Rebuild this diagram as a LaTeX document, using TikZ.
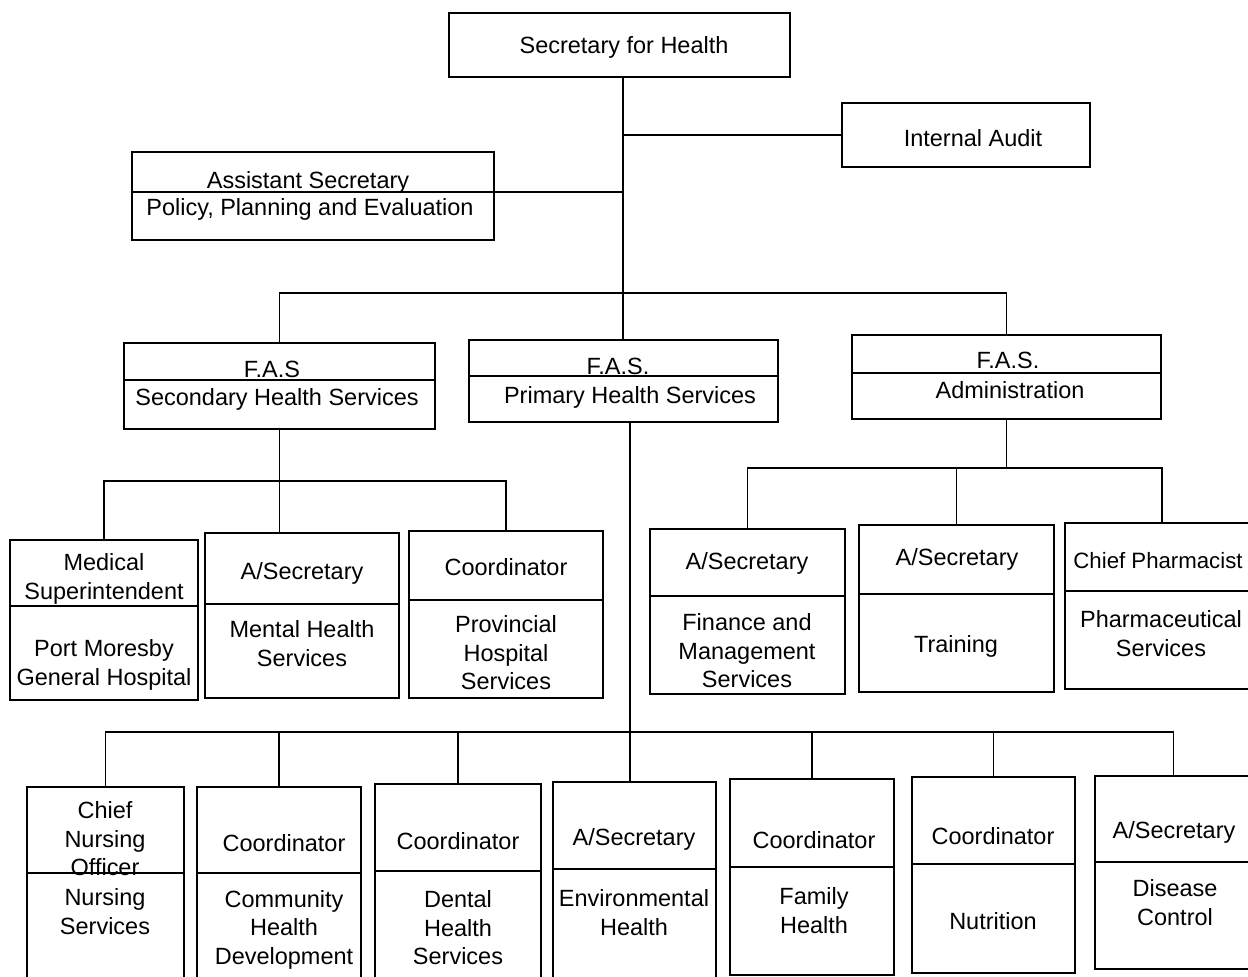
\documentclass[tikz,border=0pt]{standalone}
\usepackage{fontspec}
\setmainfont{Liberation Sans}
\usetikzlibrary{fit}

% a framed unit: name, corners (x1,y1) (x2,y2), height of its dividing rule
\newcommand\orgunit[6]{%
  \node[orgframe, fit={(#2,#3) (#4,#5)}] (#1) {};
  \draw (#1.west |- 0,#6) -- (#1.east |- 0,#6);
}

\begin{document}
\begin{tikzpicture}[x=0.025cm, y=-0.025cm, line width=1.2pt,
  orgframe/.style={draw, inner sep=0pt},
  txt/.style={align=center, inner sep=0pt, yshift=-2pt,
    font=\fontsize{16.7}{20.4}\selectfont}]
\useasboundingbox (0,0) rectangle (1248,976);
\clip (0,0) rectangle (1248,976);

% ---- top level
\node[orgframe, fit={(449,13) (790,77)}] (sec) {};
\node[txt] (sec-t) at (624,45) {Secretary for Health};

\node[orgframe, fit={(842,103) (1090,167)}] (aud) {};
\node[txt] (aud-t) at (973,135) {Internal Audit};

\orgunit{asst}{132}{152}{494}{240}{192}
\node[txt] (asst-t) at (308,180) {Assistant Secretary};
\node[txt] (asst-b) at (310,207) {Policy, Planning and Evaluation};

% ---- first assistant secretaries
\orgunit{shs}{124}{343}{435}{429}{380}
\node[txt] (shs-t) at (272,367) {F.A.S};
\node[txt] (shs-b) at (277,397) {Secondary Health Services};

\orgunit{phs}{469}{340}{778}{422}{376}
\node[txt] (phs-t) at (618,364) {F.A.S.};
\node[txt] (phs-b) at (630,395) {Primary Health Services};

\orgunit{adm}{852}{335}{1161}{419}{373}
\node[txt] (adm-t) at (1008,358) {F.A.S.};
\node[txt] (adm-b) at (1010,387) {Administration};

% ---- secondary health services
\orgunit{med}{10}{540}{198}{700}{606}
\node[txt] (med-t) at (104,576) {Medical\\Superintendent};
\node[txt] (med-b) at (104,662) {Port Moresby\\General Hospital};

\orgunit{mhs}{205}{533}{399}{698}{604}
\node[txt] (mhs-t) at (302,571) {A/Secretary};
\node[txt] (mhs-b) at (302,641) {Mental Health\\Services};

\orgunit{prov}{409}{531}{603}{698}{600}
\node[txt] (prov-t) at (506,564) {Coordinator};
\node[txt] (prov-b) at (506,650) {Provincial\\Hospital\\Services};

% ---- administration
\orgunit{fin}{650}{529}{845}{694}{596}
\node[txt] (fin-t) at (747,561) {A/Secretary};
\node[txt] (fin-b) at (747,648) {Finance and\\Management\\Services};

\orgunit{trn}{859}{525}{1054}{692}{594}
\node[txt] (trn-t) at (957,557) {A/Secretary};
\node[txt] (trn-b) at (956,644) {Training};

\orgunit{chp}{1065}{523}{1259}{689}{591}
\node[txt, font=\fontsize{15.8}{20.4}\selectfont] (chp-t) at (1158,558) {Chief Pharmacist};
\node[txt] (chp-b) at (1161,631) {Pharmaceutical\\Services};

% ---- primary health services
\orgunit{cno}{27}{787}{184}{990}{873}
\node[txt] (cno-t) at (105,836) {Chief\\Nursing\\Officer};
\node[txt] (cno-b) at (105,909) {Nursing\\Services};

\orgunit{chd}{197}{787}{361}{990}{873}
\node[txt] (chd-t) at (284,840) {Coordinator};
\node[txt] (chd-b) at (284,927) {Community\\Health\\Development};

\orgunit{dhs}{375}{784}{541}{990}{871}
\node[txt] (dhs-t) at (458,838) {Coordinator};
\node[txt] (dhs-b) at (458,925) {Dental\\Health\\Services};

\orgunit{env}{553}{782}{716}{990}{869}
\node[txt] (env-t) at (634,837) {A/Secretary};
\node[txt] (env-b) at (634,910) {Environmental\\Health};

\orgunit{fam}{730}{779}{894}{975}{867}
\node[txt] (fam-t) at (814,837) {Coordinator};
\node[txt] (fam-b) at (814,908) {Family\\Health};

\orgunit{nut}{912}{777}{1075}{973}{864}
\node[txt] (nut-t) at (993,833) {Coordinator};
\node[txt] (nut-b) at (993,918) {Nutrition};

\orgunit{dis}{1095}{776}{1252}{969}{862}
\node[txt] (dis-t) at (1174,830) {A/Secretary};
\node[txt] (dis-b) at (1175,900) {Disease\\Control};

% ---- connectors
\coordinate (trunk) at (623,0);
\coordinate (ltrunk) at (630,0);
\draw (trunk |- sec.south) -- (trunk |- phs.north);
\draw (aud.west) -- (trunk |- aud.west);
\draw (asst.east |- 0,192) -- (trunk |- 0,192);
\draw (shs.north) |- (adm.north |- 0,293) -- (adm.north);

\draw (shs.south) -- (shs.south |- mhs.north);
\draw (med.north) |- (prov.north |- 0,481) -- (prov.north);

\draw (adm.south) -- (adm.south |- 0,468);
\draw (fin.north) |- (chp.north |- 0,468) -- (chp.north);
\draw (trn.north |- 0,468) -- (trn.north);

\draw (ltrunk |- phs.south) -- (ltrunk |- env.north);
\draw (cno.north) |- (dis.north |- 0,732) -- (dis.north);
\draw (chd.north |- 0,732) -- (chd.north);
\draw (dhs.north |- 0,732) -- (dhs.north);
\draw (fam.north |- 0,732) -- (fam.north);
\draw (nut.north |- 0,732) -- (nut.north);
\end{tikzpicture}
\end{document}
